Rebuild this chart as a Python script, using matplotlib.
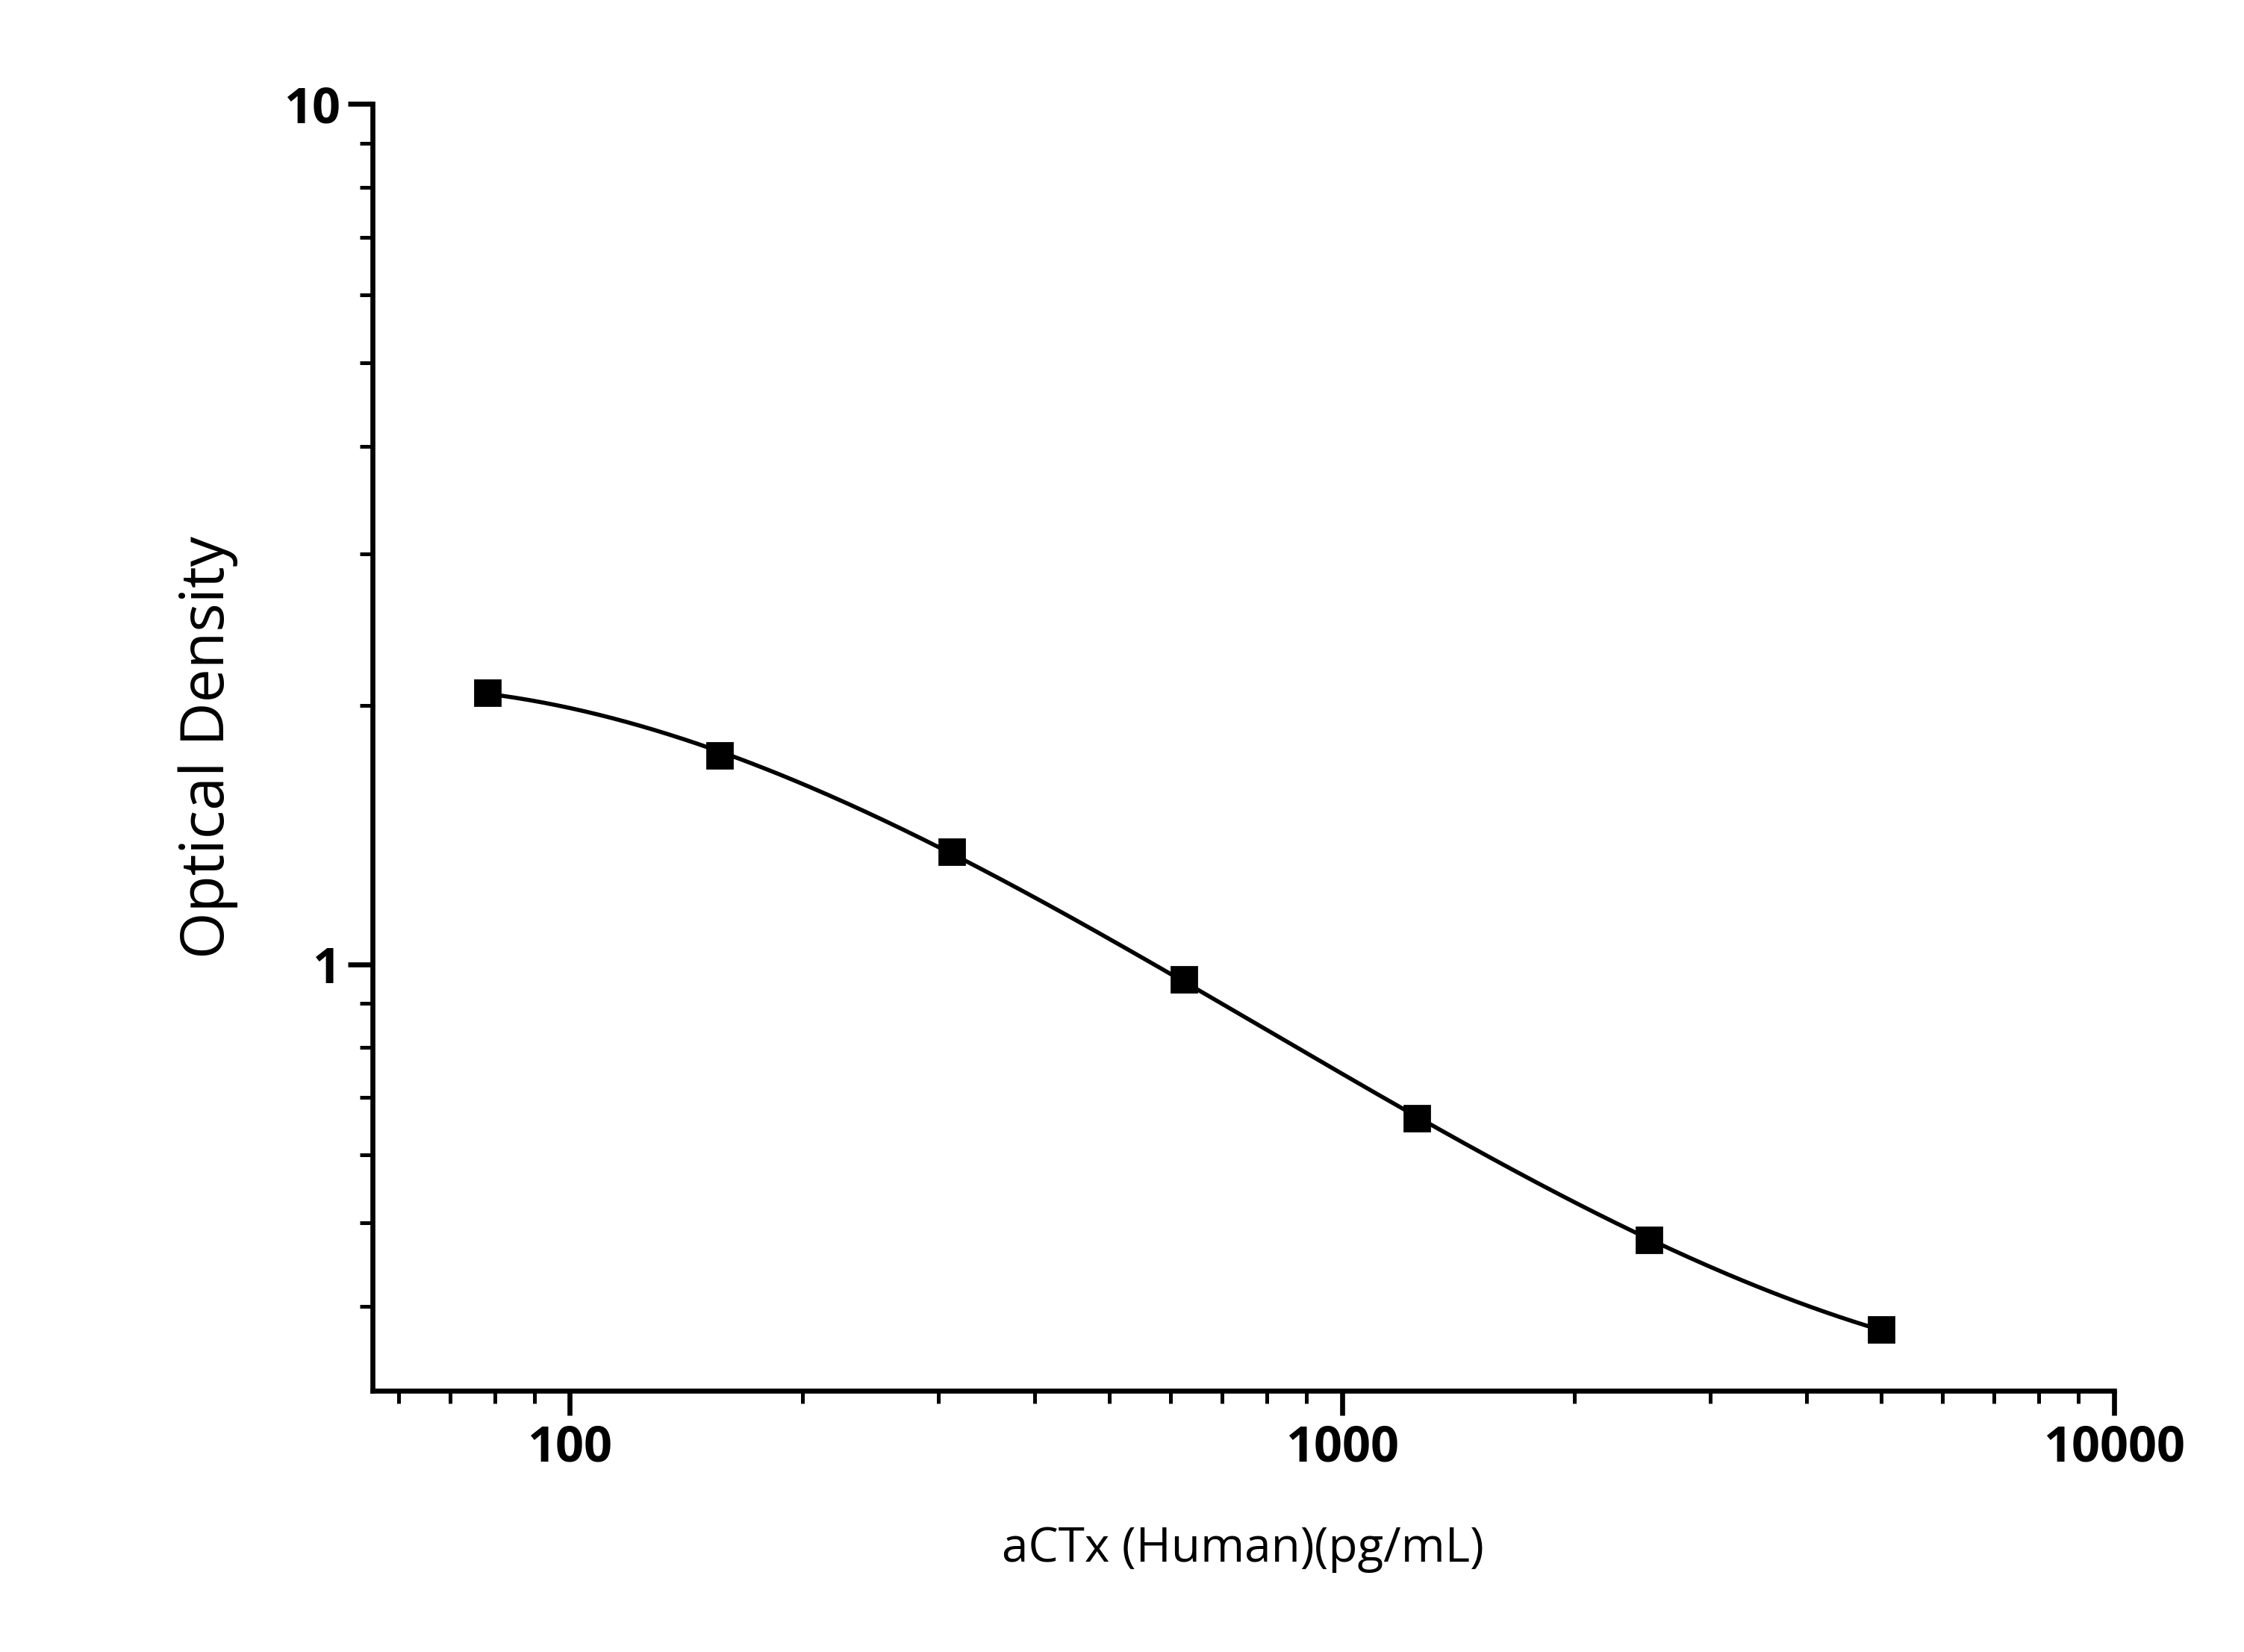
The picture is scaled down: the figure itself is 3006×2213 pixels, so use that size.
import matplotlib
matplotlib.use("Agg")
import matplotlib.pyplot as plt
import numpy as np
from matplotlib.ticker import LogLocator, NullFormatter, FixedLocator, FixedFormatter

conc = [78.125, 156.25, 312.5, 625, 1250, 2500, 5000]
od = [2.07, 1.75, 1.35, 0.96, 0.662, 0.478, 0.376]
xticks = [100, 1000, 10000]
xticklabels = ["100", "1000", "10000"]
yticks = [1, 10]
yticklabels = ["1", "10"]

plt.rcParams['font.family'] = ['Open Sans', 'DejaVu Sans']
fig = plt.figure(figsize=(15.03, 11.065), dpi=200)
ax = fig.add_axes([0.166, 0.158, 0.776, 0.779])

lx, ly = np.log10(conc), np.log10(od)
coef = np.polyfit(lx, ly, 3)
xs = np.linspace(lx[0], lx[-1], 300)
ax.plot(10**xs, 10**np.polyval(coef, xs), color='black', lw=2)
ax.plot(conc, od, 's', color='black', ms=12)

ax.set_xscale('log'); ax.set_yscale('log')
ax.set_xlim(55.5, 10000); ax.set_ylim(0.319, 10)
ax.spines['top'].set_visible(False); ax.spines['right'].set_visible(False)
for s in ['left', 'bottom']:
    ax.spines[s].set_linewidth(2.4)
ax.xaxis.set_major_locator(FixedLocator(xticks)); ax.xaxis.set_major_formatter(FixedFormatter(xticklabels))
ax.yaxis.set_major_locator(FixedLocator(yticks)); ax.yaxis.set_major_formatter(FixedFormatter(yticklabels))
ax.xaxis.set_minor_locator(LogLocator(subs=np.arange(2, 10))); ax.xaxis.set_minor_formatter(NullFormatter())
ax.yaxis.set_minor_locator(LogLocator(subs=np.arange(2, 10))); ax.yaxis.set_minor_formatter(NullFormatter())
ax.tick_params(which='major', length=12, width=2.4, labelsize=24)
ax.tick_params(which='minor', length=6, width=1.8)
for t in ax.get_xticklabels() + ax.get_yticklabels():
    t.set_fontweight('bold')
ax.set_xlabel('aCTx (Human)(pg/mL)', fontsize=23, labelpad=25)
ax.set_ylabel('Optical Density', fontsize=29, labelpad=22)
fig.savefig('out.png', dpi=200)
